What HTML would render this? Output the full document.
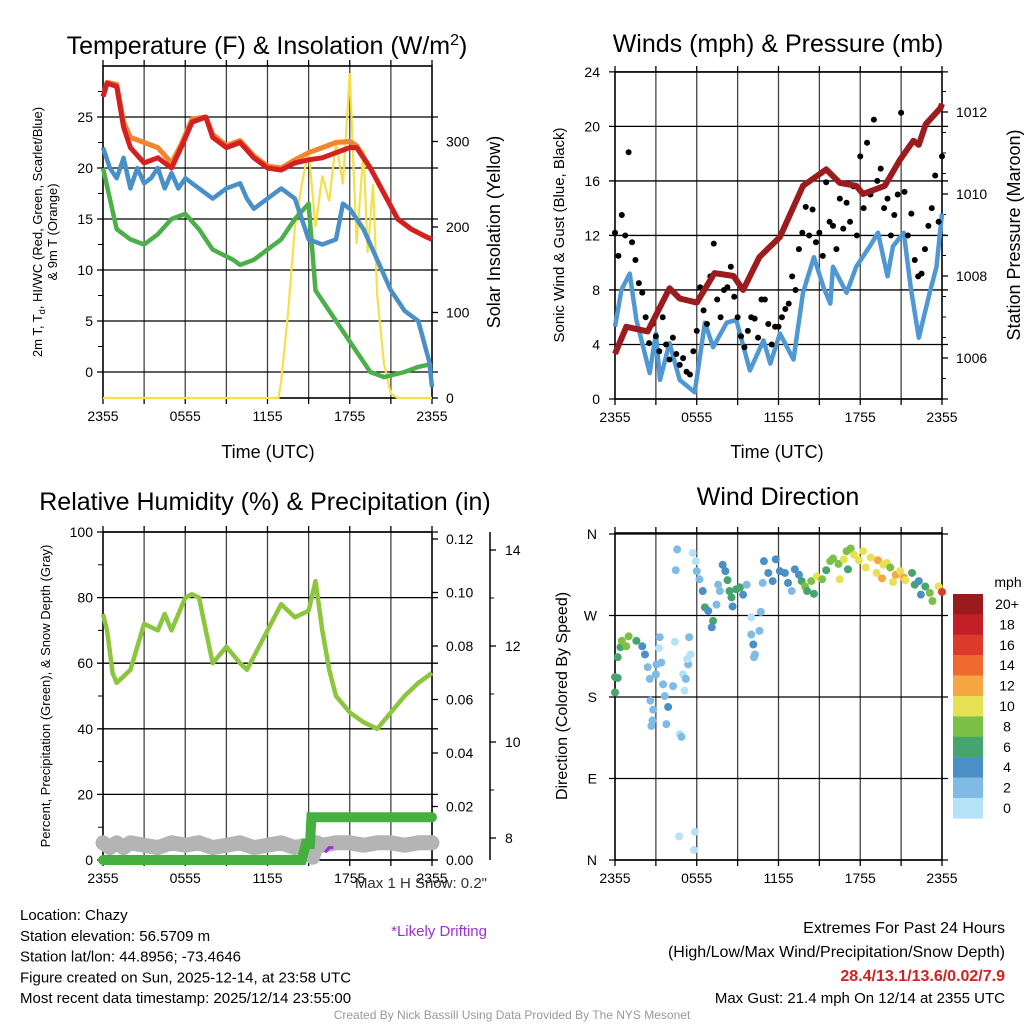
<!DOCTYPE html>
<html><head><meta charset="utf-8">
<style>
html,body{margin:0;padding:0;background:#fff;}
svg{display:block;font-family:"Liberation Sans",Arial,sans-serif;}
</style></head>
<body>
<svg id="s" width="1024" height="1024" xmlns="http://www.w3.org/2000/svg"></svg>
<script>
// ---------- DATA ----------
const tHours = [0,0.3,1,1.5,2,3,4,5,5.7,6.5,7.5,8,9,10,11,12,13,14,15,16,17,18,18.5,19.5,20.5,21.5,22.5,23.5,24];
const tempRed = [27,28.3,28,24,22,20.5,21,20,22,24.5,25,23,22,22.5,21,20,19.8,20.5,20.8,21,21.5,22,22,20,17.5,15,14,13.3,13];
const tempOrange = [27,28.4,28.2,24.5,23,22.5,22,20.5,22.3,24.8,25,23.3,22.2,22.7,21.2,20.2,20,20.8,21.5,22,22.5,22.6,22.2,20,17.5,15,14,13.3,13];
const bHours = [0,0.5,1,1.5,2,2.5,3,3.5,4,4.5,5,5.5,6,7,8,9,10,10.5,11,12,13,14,14.5,15,16,17,17.5,18,19,20,21,22,23,23.8,24];
const tempBlue = [22,20,19,21,18,20,18.5,19,20,18,19.5,18,19,18,17,18,18.5,17,16,17,18,17,15,13,12.5,13,16.5,16,14,11,8,6,5,1,-1.5];
const gHours = [0,1,2,3,4,5,6,7,8,9.5,10,11,12,13,14,15,15.5,16.5,17.5,19.5,20.5,22,23,24];
const dewGreen = [20,14,13,12.5,13.5,15,15.5,14,12,11,10.5,11,12,13,15,16.5,8,6,4,0,-0.5,0,0.5,0.8];
const sHours = [0,12.8,13,13.5,14,14.5,15,15.5,16,16.5,17,17.5,18,18.5,19,19.3,19.7,20,20.5,21,21.5,24];
const solar = [0,0,20,100,200,250,290,200,260,230,300,250,380,180,290,170,250,120,40,5,0,0];

const wHours = [0,0.47,1.08,1.57,2.55,3,3.3,4,4.75,5.85,6.6,7.2,8.2,8.9,9.9,10.9,11.4,12.1,13.1,13.8,14.6,15.3,15.8,16,17,17.7,18.7,19.3,20,20.4,21.2,21.7,22.3,23.1,23.6,24];
const windSpd = [5.3,8,9.2,5.8,1.9,4.8,1.4,4.1,1.4,0.5,5.6,3.8,5.6,5.8,2.1,4.3,2.6,4.8,2.9,7.8,10.4,8.2,7,9.7,7.8,9.7,11.2,12.2,9,11.2,12.2,8.2,4.5,7.8,9.7,13.6];
const gusts = [12.2,10.5,13.5,12.0, 18.1,11.5,10.2,8.5, 7.8,6.0,4.1,5.5, 4.6,3.5,6.0,4.0, 2.9,4.5,3.3,2.5, 3.0,2.0,1.8,3.5, 5.0,8.2,6.5,5.5, 9.0,11.4,7.3,6.0, 8.0,8.2,9.7,7.5, 6.0,4.6,3.8,5.0, 6.0,5.9,4.5,7.3, 7.3,5.5,4.0,5.3, 5.3,6.0,6.6,7.0, 9.0,8.0,11.0,12.2, 14.1,12.0,13.9,11.5, 12.2,10.5,15.9,13.0, 12.7,11.0,14.7,12.5, 14.4,13.0,15.6,12.0, 17.8,14.0,18.8,15.0, 20.5,16.0,16.9,14.0, 14.7,12.0,13.5,15.0, 21.0,15.2,12.0,13.6, 10.2,9.0,9.2,11.0, 12.7,14.0,16.4,13.0, 17.8];
const pHours = [0,0.83,2.4,4,4.75,6,7.3,8.7,9.4,10.6,12.1,13.8,15.5,16.5,17.7,18.2,19.8,20.9,21.9,22.3,22.8,23.9,24];
const pressure = [1006.1,1006.76,1006.65,1007.7,1007.45,1007.35,1008.07,1008.0,1007.66,1008.46,1008.95,1010.2,1010.6,1010.27,1010.2,1010.0,1010.2,1010.83,1011.3,1011.2,1011.7,1012.1,1012.2];

const rhHours = [0,0.3,0.7,1,2,2.5,3,4,4.5,5,6,6.5,7,7.5,8,9,10,10.5,11,12,13,14,15,15.5,16,16.5,17,18,19,20,21,22,23,24];
const rh = [75,70,57,54,58,65,72,70,75,70,80,81,80,70,60,65,60,58,62,70,78,74,76,85,70,58,50,45,42,40,45,50,54,57];
const prHours = [0,14.5,14.8,15.1,15.2,24];
const precip = [0,0,0.006,0.006,0.016,0.016];
const snHours = [0,0.5,1,1.5,2,3,4,5,6,7,8,9,10,11,12,13,14,14.8,15.3,15.6,16,17,18,19,20,21,22,23,24];
const snow = [7.9,7.8,7.9,7.8,7.9,7.85,7.8,7.9,7.85,7.9,7.8,7.85,7.9,7.8,7.85,7.9,7.8,7.85,7.6,7.9,7.85,7.9,7.9,7.85,7.9,7.9,7.85,7.9,7.9];
const driftHours = [16.2,16.5,16.8];
const drift = [7.7,7.8,7.8];

const dHours = [0,0,0.2,0.2,0.4,0.5,1.0,0.83,1.57,2.0,2.2,2.4,2.55,2.6,2.8,2.75,2.67,3.0,3.04,3.28,3.23,3.4,3.53,3.65,3.9,3.77,4.26,4.4,4.56,4.46,4.75,4.88,5.0,5.1,5.2,5.37,5.3,5.44,5.54,5.7,5.93,6.0,6.2,6.44,6.6,6.84,7.2,7.1,7.45,7.57,7.7,7.9,8.1,8.26,8.4,8.55,8.63,8.9,9.17,9.4,9.66,4.7,5.86,5.8,10.0,10.0,10.15,10.27,10.2,10.6,10.7,10.84,10.93,11.25,11.57,11.8,12.1,12.47,12.7,12.97,13.2,13.5,13.7,13.95,14.1,14.4,14.6,14.8,15.2,15.5,15.8,16.0,16.4,16.5,16.8,17.0,17.1,17.3,17.55,17.9,18.2,18.4,18.77,19.2,19.3,19.6,19.7,19.95,20.2,20.4,20.6,20.93,21.2,21.3,21.8,22.0,22.3,22.45,22.77,23.1,23.3,23.75,24];
const dDir = [185,202,201,224,235,242,247,236,242,236,227,213,200,176,166,154,148,205,216,246,234,218,194,181,169,150,192,241,343,320,139,136,205,187,200,216,222,246,227,339,330,319,310,297,279,275,264,257,282,304,297,326,319,309,297,290,280,299,301,293,304,26,31,11,268,249,238,227,224,253,274,306,330,317,308,332,319,317,306,297,321,315,308,302,297,308,294,313,310,320,330,333,327,310,332,341,321,344,337,331,341,323,334,317,331,311,326,328,323,307,315,319,312,309,317,304,308,293,302,295,286,302,296];
const dSpd = [6,6,6,6,6,8,8,8,6,4,4,2,2,2,2,2,2,2,2,2,0,2,2,2,4,2,2,0,2,2,0,2,0,0,2,2,0,2,0,0,0,2,2,4,6,4,6,4,2,2,2,4,4,6,6,6,4,6,6,4,2,0,0,0,0,2,4,2,2,2,2,2,4,4,4,4,4,4,4,2,4,4,6,8,6,8,6,10,8,6,8,8,8,10,10,8,6,8,10,10,10,10,10,10,12,12,10,10,8,10,12,10,12,10,6,6,4,4,6,8,8,10,16];
const cbLabels = ["20+","18","16","14","12","10","8","6","4","2","0"];
const cbColors = ["#9a1a1e","#c21f27","#de3a2b","#ef6a2d","#f6a744","#e7e154","#7bc147","#46a46e","#4a8fc6","#7fbbe5","#b5e2f6"];

// ---------- HELPERS ----------
const NS="http://www.w3.org/2000/svg";
const S=document.getElementById('s');
function mk(tag,attrs,parent){const e=document.createElementNS(NS,tag);for(const k in attrs)e.setAttribute(k,attrs[k]);(parent||S).appendChild(e);return e;}
function txt(x,y,str,size,anchor,extra){const e=mk('text',Object.assign({x:x,y:y,'font-size':size,'text-anchor':anchor||'middle',fill:'#000'},extra||{}));e.textContent=str;return e;}
function pathD(xs,ys,fx,fy){return xs.map((h,i)=>(i?'L':'M')+fx(h).toFixed(1)+','+fy(ys[i]).toFixed(1)).join('');}
const xLabels=["2355","0555","1155","1755","2355"];

function frame(x0,x1,y0,y1){
  for(let k=1;k<8;k++){const x=x0+(x1-x0)*k/8;const l=mk('line',{x1:x,x2:x,y1:y0,y2:y1,stroke:'#444','stroke-width':1.3});
  }
  const r=mk('rect',{x:x0,y:y0,width:x1-x0,height:y1-y0,fill:'none',stroke:'#000','stroke-width':1.6});
  
  for(let k=0;k<=8;k++){const x=x0+(x1-x0)*k/8;mk('line',{x1:x,x2:x,y1:y1,y2:y1+6,stroke:'#000','stroke-width':1.3});mk('line',{x1:x,x2:x,y1:y0,y2:y0-6,stroke:'#000','stroke-width':1.3});}
  xLabels.forEach((t,i)=>{const e=txt(x0+(x1-x0)*i/4,y1+23,t,14);});
}
function hgrid(x0,x1,y,lab,lx){const l=mk('line',{x1:x0-6,x2:x1+6,y1:y,y2:y,stroke:'#000','stroke-width':1.3});
  
  if(lab!==null){const e=txt(lx,y+5,lab,14,'end');}}
function rtick(x,y,lab,len){mk('line',{x1:x,x2:x+(len||6),y1:y,y2:y,stroke:'#000','stroke-width':1.3});
  const e=txt(x+14,y+5,lab,14,'start');}

// ---------- PANEL 1 TEMP ----------
const xT=h=>103+h*329/24, yT=v=>372-v*10.2, ySol=v=>398-v*0.855;
frame(103,432,66,398);
for(let v=0;v<=25;v+=5)hgrid(103,432,yT(v),String(v),93);
for(let v=2.5;v<=27.5;v+=5)mk('line',{x1:103,x2:98,y1:yT(v),y2:yT(v),stroke:'#000'});
[0,100,200,300].forEach(v=>rtick(432,ySol(v),String(v)));
let p;
p=mk('path',{d:pathD(sHours,solar,xT,ySol),fill:'none',stroke:'#f5e04a','stroke-width':2.2});

p=mk('path',{d:pathD(gHours,dewGreen,xT,yT),fill:'none',stroke:'#4daf4a','stroke-width':4.5,'stroke-linejoin':'round'});

p=mk('path',{d:pathD(bHours,tempBlue,xT,yT),fill:'none',stroke:'#4a90c8','stroke-width':4.5,'stroke-linejoin':'round'});

p=mk('path',{d:pathD(tHours,tempOrange,xT,yT),fill:'none',stroke:'#f0852d','stroke-width':5,'stroke-linejoin':'round'});

p=mk('path',{d:pathD(tHours,tempRed,xT,yT),fill:'none',stroke:'#d42020','stroke-width':5,'stroke-linejoin':'round'});

let t=txt(267,54,"",25);t.innerHTML='Temperature (F) &amp; Insolation (W/m<tspan dy="-9" font-size="16">2</tspan><tspan dy="9">)</tspan>';

t=txt(268,458,"Time (UTC)",18);
t=txt(0,0,"",13,'middle',{transform:'translate(42,232) rotate(-90)'});
t.innerHTML='2m T, T<tspan dy="3" font-size="9">d</tspan><tspan dy="-3">, HI/WC (Red, Green, Scarlet/Blue)</tspan>';

t=txt(0,0,"& 9m T (Orange)",13,'middle',{transform:'translate(57,232) rotate(-90)'});

t=txt(0,0,"Solar Insolation (Yellow)",18,'middle',{transform:'translate(500,232) rotate(-90)'});


// ---------- PANEL 2 WINDS ----------
const xW=h=>615+h*327/24, yW=v=>399-v*13.63, yP=v=>358-(v-1006)*41;
frame(615,942,72,399);
for(let v=0;v<=24;v+=4)hgrid(615,942,yW(v),String(v),600);
[1006,1008,1010,1012].forEach(v=>rtick(942,yP(v),String(v)));
[1005.5,1006.5,1007,1007.5,1008.5,1009,1009.5,1010.5,1011,1011.5,1012.5].forEach(v=>mk('line',{x1:942,x2:946,y1:yP(v),y2:yP(v),stroke:'#000'}));
p=mk('path',{d:pathD(wHours,windSpd,xW,yW),fill:'none',stroke:'#4f98d3','stroke-width':4.5,'stroke-linejoin':'round'});

gusts.forEach((g,i)=>{const c=mk('circle',{cx:xW(i*0.25),cy:yW(g),r:3,fill:'#000'});
});
p=mk('path',{d:pathD(pHours,pressure,xW,yP),fill:'none',stroke:'#9b1b1e','stroke-width':6,'stroke-linejoin':'round'});

t=txt(778,52,"Winds (mph) & Pressure (mb)",25);
t=txt(777,458,"Time (UTC)",18);
t=txt(0,0,"Sonic Wind & Gust (Blue, Black)",15,'middle',{transform:'translate(564,235) rotate(-90)'});

t=txt(0,0,"Station Pressure (Maroon)",18,'middle',{transform:'translate(1020,235) rotate(-90)'});


// ---------- PANEL 3 RH ----------
const xR=h=>103+h*329/24, yRH=v=>860-v*3.28, yPr=v=>860-v*2675, ySn=v=>838-(v-8)*48;
frame(103,432,532,860);
for(let v=0;v<=100;v+=20)hgrid(103,432,yRH(v),String(v),93);
for(let v=10;v<=90;v+=20)mk('line',{x1:103,x2:98,y1:yRH(v),y2:yRH(v),stroke:'#000'});
[0,0.02,0.04,0.06,0.08,0.10,0.12].forEach(v=>rtick(432,yPr(v),v.toFixed(2)));
mk('line',{x1:490,x2:490,y1:532,y2:860,stroke:'#000','stroke-width':1.5});
[8,10,12,14].forEach(v=>{mk('line',{x1:490,x2:496,y1:ySn(v),y2:ySn(v),stroke:'#000','stroke-width':1.3});
 const e=txt(505,ySn(v)+5,String(v),14,'start');});
[9,11,13].forEach(v=>mk('line',{x1:490,x2:494,y1:ySn(v),y2:ySn(v),stroke:'#000'}));
p=mk('path',{d:pathD(snHours,snow,xR,ySn),fill:'none',stroke:'#b4b4b4','stroke-width':15,'stroke-linejoin':'round','stroke-linecap':'round'});

p=mk('path',{d:pathD(driftHours,drift,xR,ySn),fill:'none',stroke:'#9b30d9','stroke-width':3});

p=mk('path',{d:pathD(prHours,precip,xR,yPr),fill:'none',stroke:'#45b040','stroke-width':10,'stroke-linecap':'round'});

p=mk('path',{d:pathD(rhHours,rh,xR,yRH),fill:'none',stroke:'#8cc63f','stroke-width':4.5,'stroke-linejoin':'round'});

t=txt(265,510,"Relative Humidity (%) & Precipitation (in)",25);
t=txt(0,0,"Percent, Precipitation (Green), & Snow Depth (Gray)",13,'middle',{transform:'translate(50,696) rotate(-90)'});

t=txt(487,888,'Max 1 H Snow: 0.2"',15,'end',{fill:'#333'});
t=txt(487,936,'*Likely Drifting',15,'end',{fill:'#9b30d9'});

// ---------- PANEL 4 DIRECTION ----------
const xD=h=>615+h*327/24, yD=v=>860-v*326/360;
frame(615,942,533,860);
[["N",0],["E",90],["S",180],["W",270],["N",360]].forEach(a=>hgrid(615,942,yD(a[1]),a[0],597));
const spdColor=s=>cbColors[10-Math.min(10,Math.floor(s/2))];
dHours.forEach((h,i)=>{const c=mk('circle',{cx:xD(h),cy:yD(dDir[i]),r:4,fill:spdColor(dSpd[i])});
});
cbLabels.forEach((l,i)=>{const r=mk('rect',{x:953,y:594+i*20.4,width:30,height:20.6,fill:cbColors[i]});
 
 const e=txt(1007,594+i*20.4+15,l,14,'middle');});
t=txt(1008,587,"mph",14,'middle');
t=txt(778,505,"Wind Direction",25);
t=txt(0,0,"Direction (Colored By Speed)",16,'middle',{transform:'translate(567,696) rotate(-90)'});


// ---------- FOOTER TEXT ----------
["Location: Chazy","Station elevation: 56.5709 m","Station lat/lon: 44.8956; -73.4646","Figure created on Sun, 2025-12-14, at 23:58 UTC","Most recent data timestamp: 2025/12/14 23:55:00"].forEach((s,i)=>{
 const e=txt(20,920+i*20.8,s,15,'start');});
t=txt(1005,933,"Extremes For Past 24 Hours",16,'end');
t=txt(1005,957,"(High/Low/Max Wind/Precipitation/Snow Depth)",16,'end');
t=txt(1005,981,"28.4/13.1/13.6/0.02/7.9",16,'end',{fill:'#d42020','font-weight':'bold'});
t=txt(1005,1003,"Max Gust: 21.4 mph On 12/14 at 2355 UTC",15,'end');
t=txt(512,1019,"Created By Nick Bassill Using Data Provided By The NYS Mesonet",12,'middle',{fill:'#999'});
</script>
</body></html>
